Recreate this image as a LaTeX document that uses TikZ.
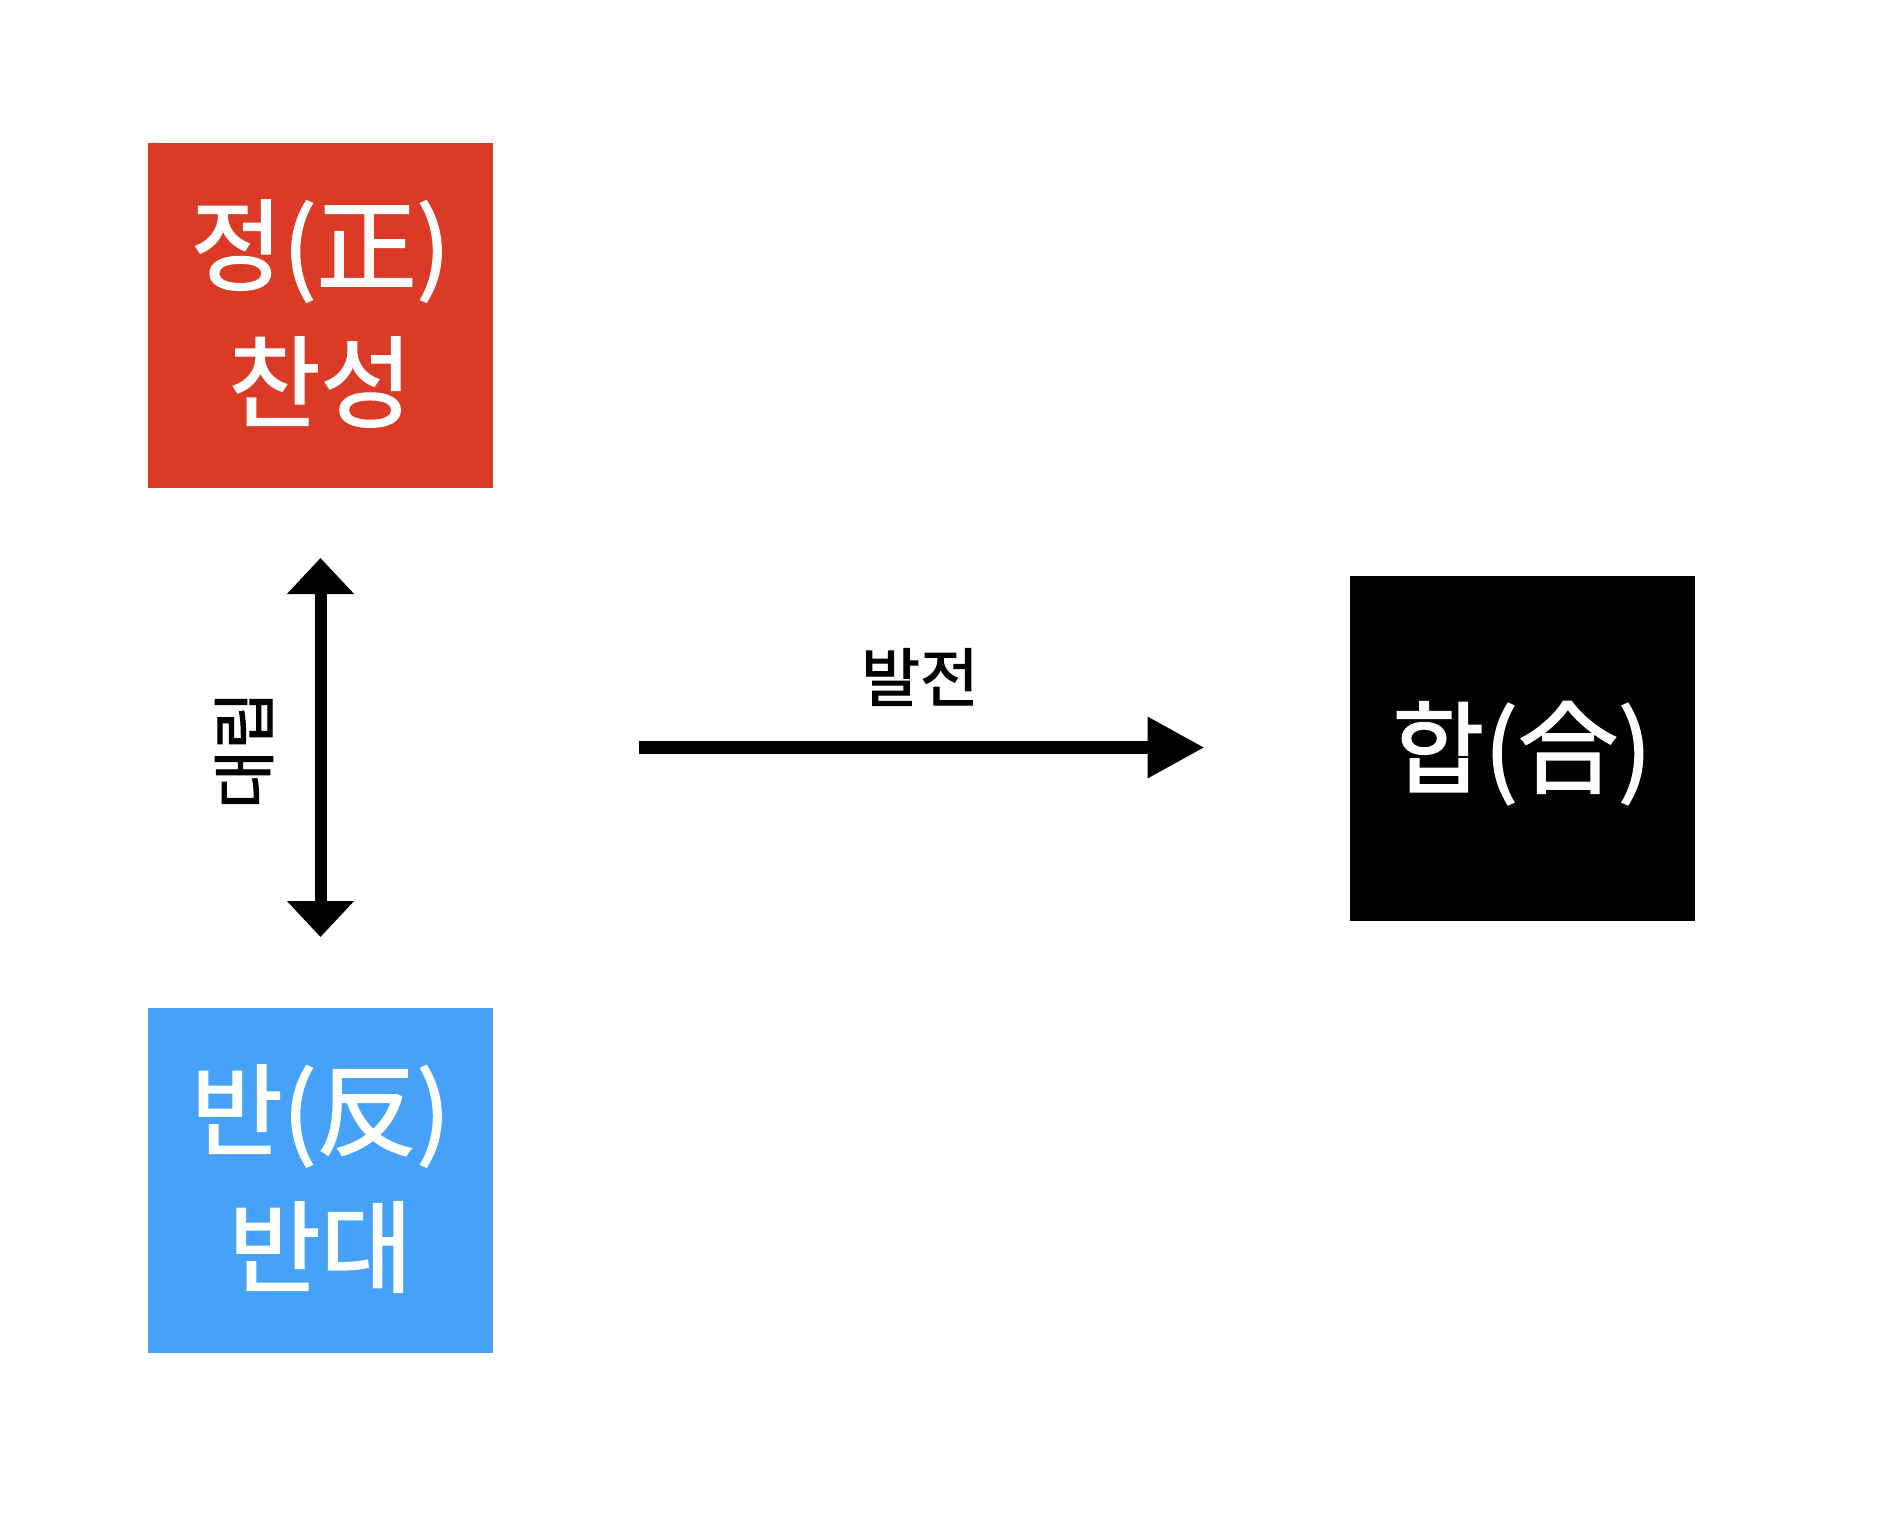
\documentclass[tikz,border=0pt]{standalone}
\usepackage{fontspec}
\setmainfont{Noto Sans CJK KR}
\newfontfamily\koreanfont{Noto Sans CJK KR}[FakeBold=1.6]
\usetikzlibrary{arrows.meta}
\definecolor{thesis}{RGB}{219,58,39}
\definecolor{antithesis}{RGB}{69,162,248}
\begin{document}
\begin{tikzpicture}[x=1pt,y=-1pt,
  boxnode/.style={minimum width=345pt,minimum height=345pt,inner sep=0pt,outer sep=0pt},
  boxtext/.style={inner sep=0pt,text=white,align=center,font=\koreanfont\fontsize{100}{137}\selectfont},
  lbl/.style={inner sep=0pt,font=\koreanfont\fontsize{64}{74}\selectfont},
  vtips/.style={{Triangle[width=65pt,length=36pt]}-{Triangle[width=65pt,length=36pt]}},
  htip/.style={-{Triangle[width=58pt,length=57pt]}}]
\useasboundingbox (0,0) rectangle (1884,1520);
\node[boxnode,fill=thesis] (thesis) at (320.5,315.5) {};
\node[boxnode,fill=antithesis] (anti) at (320.5,1180.5) {};
\node[boxnode,fill=black] (syn) at (1522,748) {};
\node[boxtext] (thesistext) at ([yshift=2pt]thesis.center) {정(正)\\찬성};
\node[boxtext] (antitext) at ([yshift=2pt]anti.center) {반(反)\\반대};
\node[boxtext] (syntext) at ([yshift=-5pt]syn.center) {합(合)};
\draw[line width=12pt,vtips,shorten <=70pt,shorten >=71pt] (thesis.south) -- (anti.north);
\coordinate (hstart) at (639,747.5);
\draw[line width=13pt,htip,shorten >=145pt] (hstart) -- (hstart -| syn.west);
\node[lbl,rotate=90] (conflict) at (244,750) {대립};
\node[lbl] (develop) at (920,677) {발전};
\end{tikzpicture}
\end{document}
